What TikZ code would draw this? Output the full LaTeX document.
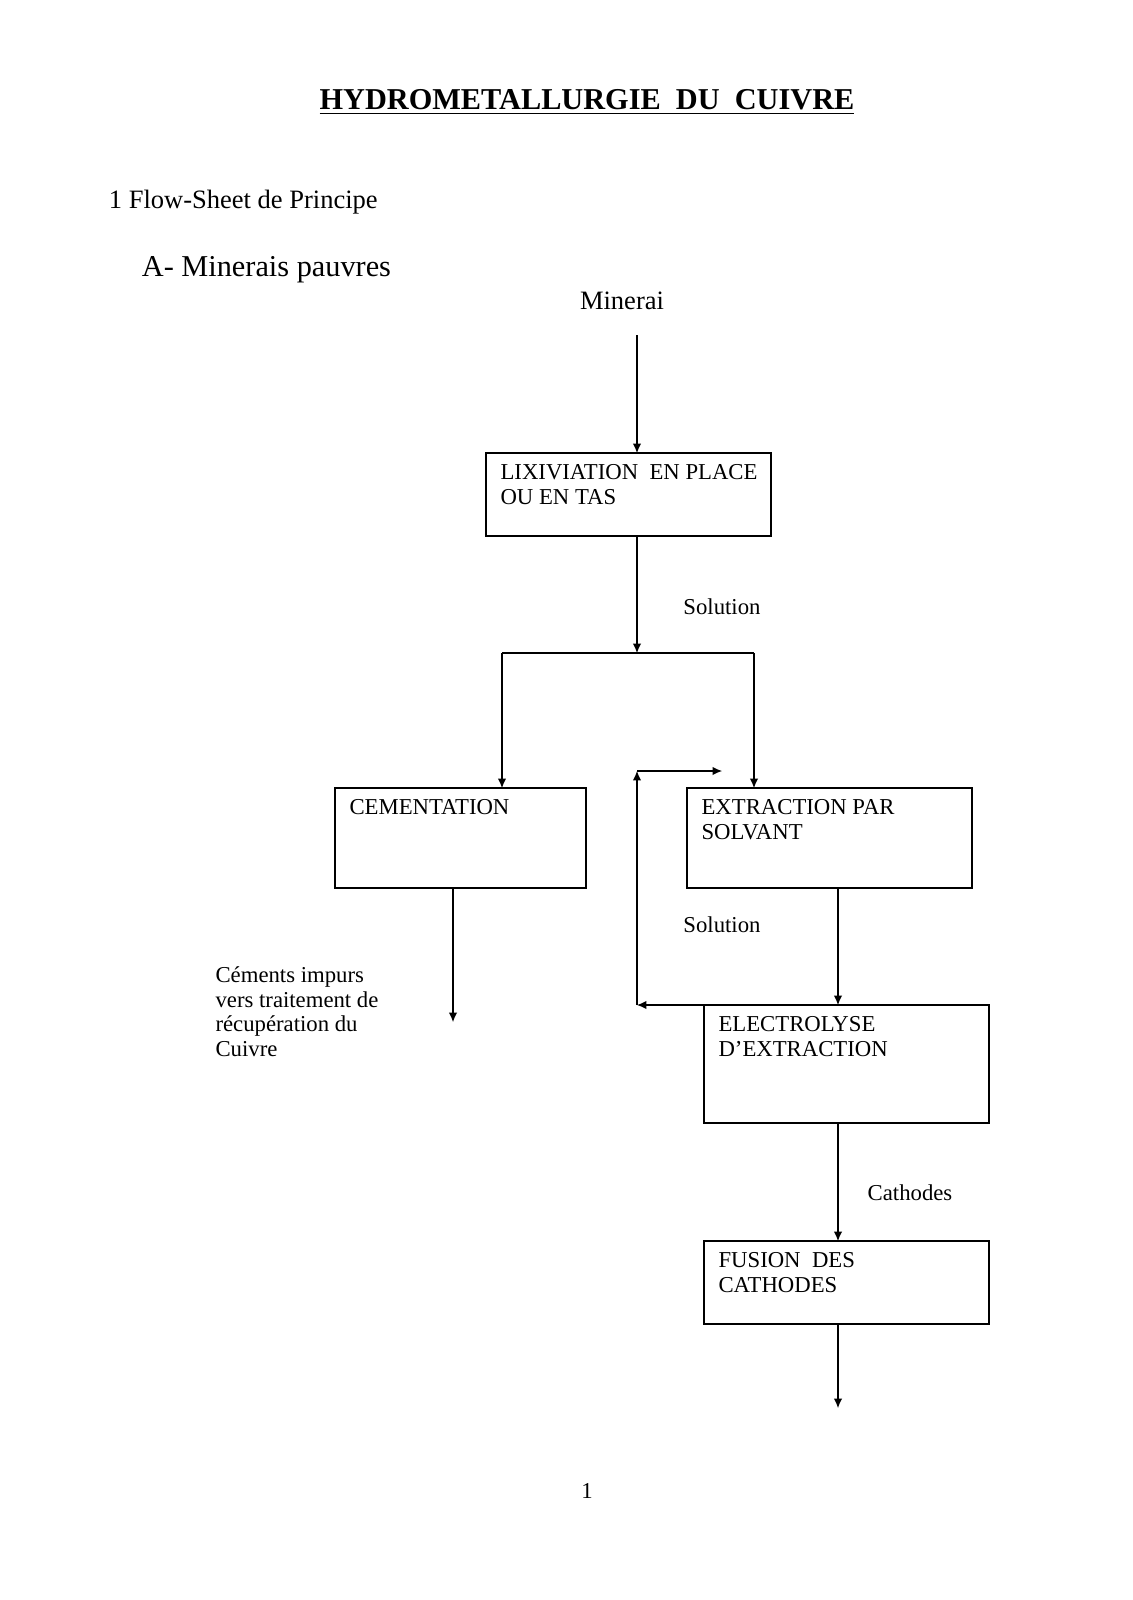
\documentclass[tikz,border=0pt]{standalone}
\usepackage{fontspec}
\setmainfont{Liberation Serif}
\usetikzlibrary{positioning,arrows.meta}
\tikzset{
  boxtxt/.style={anchor=north west,align=left,font=\fontsize{12}{13}\selectfont,inner sep=0pt},
  lbl/.style={font=\fontsize{12}{13}\selectfont,inner sep=0pt},
  flow/.style={-{Latex[length=5pt,width=4.5pt]}}
}
\begin{document}
\begin{tikzpicture}[x=0.01855cm,y=-0.01855cm,line width=0.6pt]
\useasboundingbox (0,0) rectangle (1132,1600);
% titles
\node[font=\fontsize{16}{18}\selectfont\bfseries] (title) at (587,102) {\underline{HYDROMETALLURGIE\ \ DU\ \ CUIVRE}};
\node[anchor=west,font=\fontsize{14}{16}\selectfont] (sec) at (102,202) {1 Flow-Sheet de Principe};
\node[anchor=west,font=\fontsize{16}{18}\selectfont] (sub) at (135,270) {A- Minerais pauvres};
\node[font=\fontsize{14}{16}\selectfont] (minerai) at (622,301) {Minerai};
% boxes
\draw (486,453) rectangle (771,536);
\node[boxtxt] (lix) at (500,464) {LIXIVIATION\ \ EN PLACE\\OU EN TAS};
\draw (335,788) rectangle (586,888);
\node[boxtxt] (cem) at (349,799) {CEMENTATION};
\draw (687,788) rectangle (972,888);
\node[boxtxt] (ext) at (701,799) {EXTRACTION PAR\\SOLVANT};
\draw (704,1005) rectangle (989,1123);
\node[boxtxt] (elec) at (718,1016) {ELECTROLYSE\\D'EXTRACTION};
\draw (704,1241) rectangle (989,1324);
\node[boxtxt] (fus) at (718,1252) {FUSION\ \ DES\\CATHODES};
% coordinates
\coordinate (m0) at (637,335);
\coordinate (l1) at (637,453);
\coordinate (l2) at (637,536);
\coordinate (sp) at (637,653);
\coordinate (spl) at (502,653);
\coordinate (spr) at (754,653);
\coordinate (cemin) at (502,788);
\coordinate (extin) at (754,788);
\coordinate (cemout) at (453,888);
\coordinate (cemend) at (453,1022);
\coordinate (extout) at (838,888);
\coordinate (elin) at (838,1005);
\coordinate (elleft) at (704,1005);
\coordinate (rc1) at (637,1005);
\coordinate (rc2) at (637,771);
\coordinate (rc3) at (722,771);
\coordinate (elout) at (838,1123);
\coordinate (fusin) at (838,1241);
\coordinate (fusout) at (838,1324);
\coordinate (fusend) at (838,1408);
% connectors
\draw[flow] (m0) -- (l1);
\draw[flow] (l2) -- (sp);
\draw (spl) -- (spr);
\draw[flow] (spl) -- (cemin);
\draw[flow] (spr) -- (extin);
\draw[flow] (cemout) -- (cemend);
\draw[flow] (extout) -- (elin);
\draw[flow] (elleft) -- (rc1);
\draw[flow] (rc1) -- (rc2);
\draw[flow] (rc2) -- (rc3);
\draw[flow] (elout) -- (fusin);
\draw[flow] (fusout) -- (fusend);
% labels
\node[lbl] (sol1) at (722,607) {Solution};
\node[lbl] (sol2) at (722,925) {Solution};
\node[lbl] (cath) at (910,1193) {Cathodes};
\node[lbl,anchor=north west,align=left] (cements) at (215,966) {C\'ements impurs\\vers traitement de\\r\'ecup\'eration du\\Cuivre};
\node[lbl] (page) at (587,1491) {1};
\end{tikzpicture}
\end{document}
